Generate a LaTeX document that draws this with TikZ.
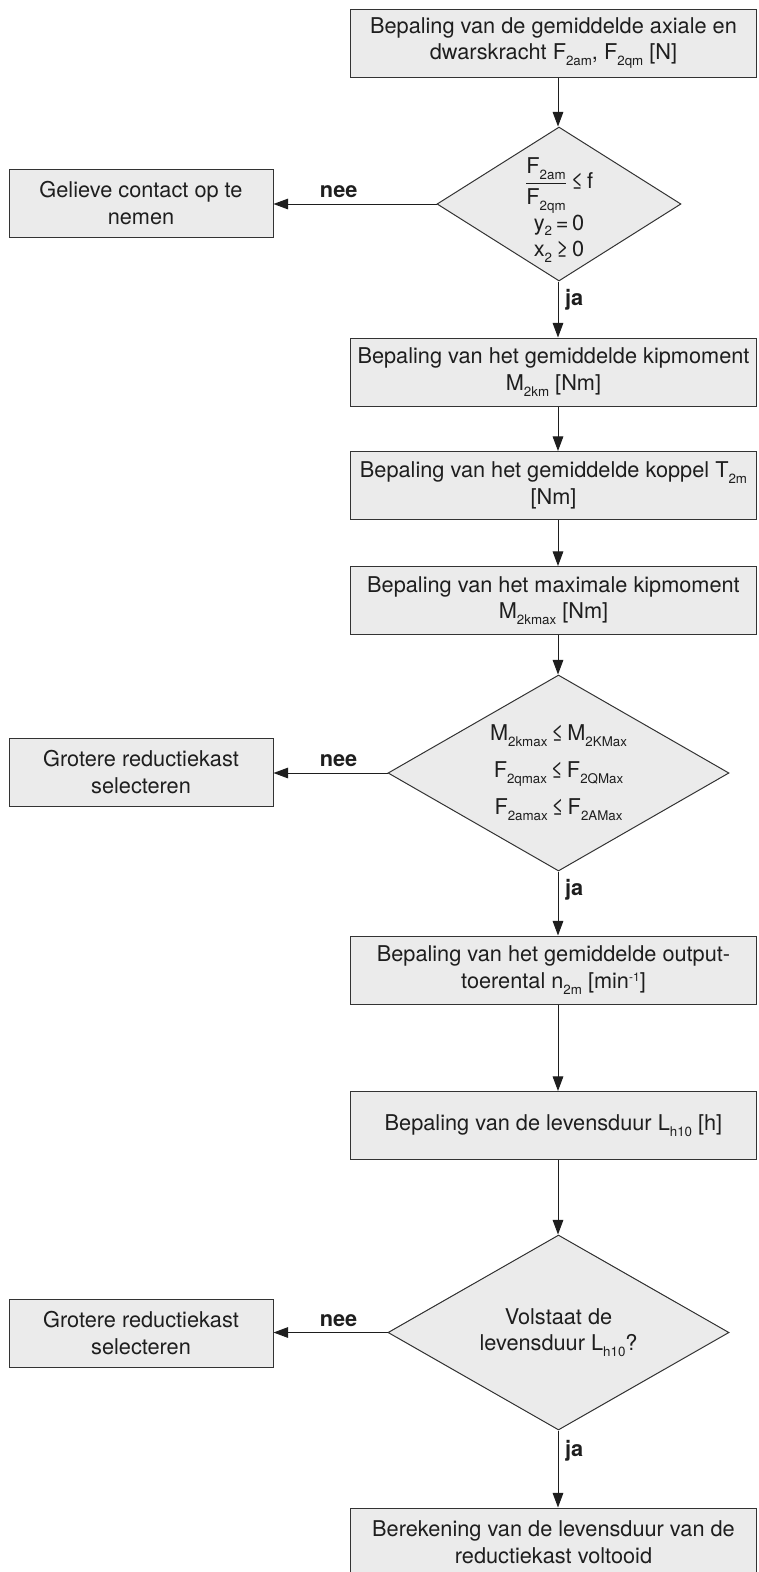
\documentclass[tikz,border=0pt]{standalone}
\usepackage{fontspec}
\setmainfont{TeX Gyre Heros}
\usetikzlibrary{shapes.geometric,arrows.meta}
\definecolor{boxfill}{HTML}{EBEBEB}
\definecolor{boxline}{HTML}{333333}
\definecolor{ink}{HTML}{1E1E1E}
\newcommand\idx[1]{\raisebox{-4.3pt}{\fontsize{10}{10}\selectfont #1}}
\newcommand\pow[1]{\raisebox{5pt}{\fontsize{9}{9}\selectfont #1}}
\begin{document}
\begin{tikzpicture}[x=0.75pt,y=-0.75pt,every node/.style={font=\fontsize{16.3}{20}\selectfont,text=ink},
  stepbox/.style={draw=boxline,fill=boxfill,line width=0.75pt,minimum width=305pt,minimum height=51pt,align=center,inner sep=0pt},
  sidebox/.style={stepbox,minimum width=198pt},
  test/.style={diamond,draw=boxline,fill=boxfill,line width=0.75pt,inner sep=0pt},
  flow/.style={draw=ink,line width=0.75pt,-{Triangle[length=11pt,width=8pt]}},
  yes/.style={font=\fontsize{16.3}{20}\selectfont\bfseries,anchor=west,inner sep=2pt,xshift=3pt},
  no/.style={font=\fontsize{16.3}{20}\selectfont\bfseries,above,inner sep=4pt}]
\useasboundingbox (0,0) rectangle (758,1572);
\coordinate (axis) at (558,0);
\node[stepbox] (top) at (553.5,43) {Bepaling van de gemiddelde axiale en\\dwarskracht F\idx{2am}, F\idx{2qm} [N]};
\node[test,minimum width=183pt,minimum height=115.5pt] (d1) at (559,204) {};
\node[align=center] at ([yshift=-4.5pt]d1.center) {\mbox{$\displaystyle\frac{\mbox{F\idx{2am}}}{\mbox{F\idx{2qm}}}$}\,≤\,f\\y\idx{2}\,=\,0\\x\idx{2}\,≥\,0};
\node[sidebox] (help) at (141,203) {Gelieve contact op te\\nemen};
\node[stepbox] (kip) at (553.5,372) {Bepaling van het gemiddelde kipmoment\\M\idx{2km} [Nm]};
\node[stepbox] (koppel) at (553.5,485.5) {Bepaling van het gemiddelde koppel T\idx{2m}\\{[Nm]}};
\node[stepbox] (kipmax) at (553.5,600.5) {Bepaling van het maximale kipmoment\\M\idx{2kmax} [Nm]};
\node[test,minimum width=255.75pt,minimum height=147pt] (d2) at (558.5,773) {};
\node[align=center] at (d2.center) {M\idx{2kmax}\,≤\,M\idx{2KMax}\\[7.75pt]F\idx{2qmax}\,≤\,F\idx{2QMax}\\[7.75pt]F\idx{2amax}\,≤\,F\idx{2AMax}};
\node[sidebox] (bigger1) at (141,772) {Grotere reductiekast\\selecteren};
\node[stepbox] (toerental) at (553.5,970) {Bepaling van het gemiddelde output-\\toerental n\idx{2m} [min\pow{-1}]};
\node[stepbox] (leven) at (553.5,1125.5) {Bepaling van de levensduur L\idx{h10} [h]};
\node[test,minimum width=255.75pt,minimum height=146.25pt] (d3) at (558.5,1332.5) {};
\node[align=center] at (d3.center) {Volstaat de\\levensduur L\idx{h10}?};
\node[sidebox] (bigger2) at (141,1333) {Grotere reductiekast\\selecteren};
\node[stepbox] (done) at (553.5,1542) {Berekening van de levensduur van de\\reductiekast voltooid};
\draw[flow] (top.south -| axis) -- (d1.north -| axis);
\draw[flow] (d1.west) -- node[no,pos=0.6] {nee} (d1.west -| help.east);
\draw[flow] (d1.south -| axis) -- node[yes,pos=0.33] {ja} (kip.north -| axis);
\draw[flow] (kip.south -| axis) -- (koppel.north -| axis);
\draw[flow] (koppel.south -| axis) -- (kipmax.north -| axis);
\draw[flow] (kipmax.south -| axis) -- (d2.north -| axis);
\draw[flow] (d2.west) -- node[no,pos=0.43] {nee} (d2.west -| bigger1.east);
\draw[flow] (d2.south -| axis) -- node[yes,pos=0.28] {ja} (toerental.north -| axis);
\draw[flow] (toerental.south -| axis) -- (leven.north -| axis);
\draw[flow] (leven.south -| axis) -- (d3.north -| axis);
\draw[flow] (d3.west) -- node[no,pos=0.43] {nee} (d3.west -| bigger2.east);
\draw[flow] (d3.south -| axis) -- node[yes,pos=0.26] {ja} (done.north -| axis);
\end{tikzpicture}
\end{document}
